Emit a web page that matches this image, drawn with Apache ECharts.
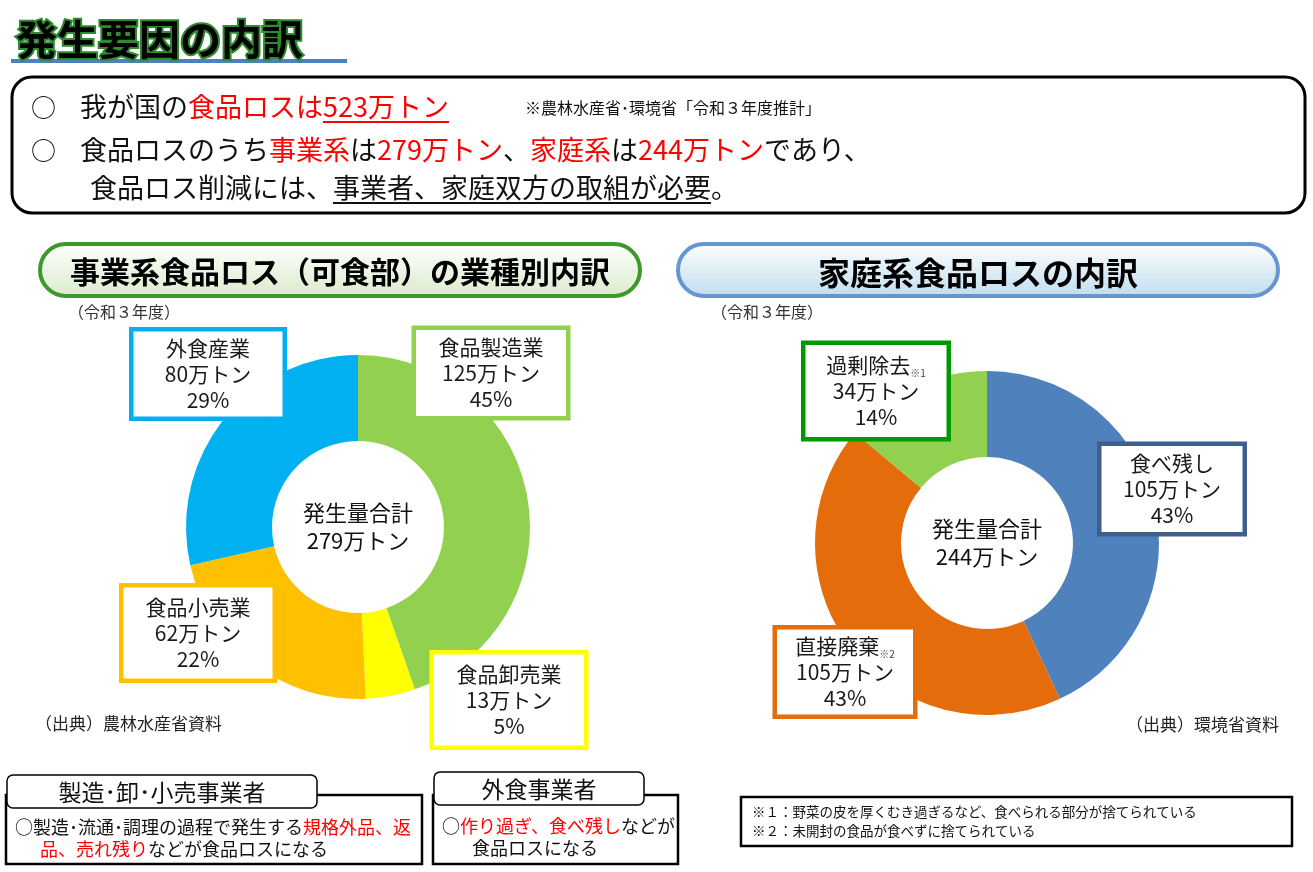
<!DOCTYPE html>
<html><head><meta charset="utf-8">
<script src="https://cdn.jsdelivr.net/npm/echarts@6/dist/echarts.min.js"></script>
<style>html,body{margin:0;padding:0;background:#fff}#c{width:1313px;height:872px}</style>
</head><body><div id="c"></div>
<script>
// ---- data ----
const bizNames = ['食品製造業', '食品卸売業', '食品小売業', '外食産業'];
const bizValues = [125, 13, 62, 80];
const bizPct = [45, 5, 22, 29];
const bizNotes = ['', '', '', ''];
const bizTotal = 279;
const homeNames = ['食べ残し', '直接廃棄', '過剰除去'];
const homeValues = [105, 105, 34];
const homePct = [43, 43, 14];
const homeNotes = ['', '※2', '※1'];
const homeTotal = 244;
const totalLoss = 523;
const unit = '万トン';
const centerCaption = '発生量合計';

// ---- styles / layout ----
const FONT = '"Noto Sans CJK JP", "Noto Sans CJK SC", sans-serif';
const bizColors = ['#92D050', '#FFFF00', '#FFC000', '#00B0F0'];
const bizBorder = ['#92D050', '#FFFF00', '#FFC000', '#00B0F0'];
const homeColors = ['#4F81BD', '#E46C0A', '#92D050'];
const homeBorder = ['#3E5F8C', '#E46C0A', '#009A00'];
// label boxes: [cx, cy, outerW, outerH]
const bizBox = [[491, 373, 154, 90], [509, 700, 154, 95], [198, 633, 153, 95], [208, 374, 153, 89]];
const homeBox = [[1172, 489, 145, 90], [845, 672, 140, 89], [876, 391, 145, 96]];
const RED = '#FF0000';
const TXT = '#111';

const mctx = document.createElement('canvas').getContext('2d');
function tw(t, size, weight) {
  mctx.font = (weight || 'normal') + ' ' + size + 'px ' + FONT;
  return mctx.measureText(t).width;
}
function txt(x, y, t, size, o) {
  o = o || {};
  return {
    type: 'text', x: x, y: y, z: o.z || 10, silent: true,
    style: {
      text: t, fontSize: size, fontFamily: FONT, fontWeight: o.weight || 'normal',
      fill: o.fill || TXT, stroke: o.stroke, lineWidth: o.lineWidth || 0,
      align: o.align || 'left', textAlign: o.align || 'left',
      verticalAlign: 'middle', textVerticalAlign: 'middle',
      lineHeight: o.lineHeight
    }
  };
}
function runs(x, y, size, segs, out) {
  segs.forEach(function (s) {
    const w = tw(s.t, size);
    out.push(txt(x, y, s.t, size, { fill: s.c || TXT }));
    if (s.u) {
      const uy = y + size * 0.56;
      out.push({ type: 'line', z: 10, silent: true, shape: { x1: x, y1: uy, x2: x + w, y2: uy }, style: { stroke: s.c || TXT, lineWidth: 2 } });
    }
    x += w;
  });
}

const G = [];
// title
G.push(txt(16, 39, '発生要因の内訳', 41, { weight: 'bold', fill: '#000', stroke: '#2E8B2E', lineWidth: 4 }));
G.push({ type: 'rect', z: 5, silent: true, shape: { x: 11, y: 59, width: 336, height: 4 }, style: { fill: '#4F81BD' } });

// top box
G.push({ type: 'rect', z: 1, silent: true, shape: { x: 12, y: 77, width: 1293, height: 136, r: 20 }, style: { fill: '#fff', stroke: '#000', lineWidth: 3 } });
const FS = 27;
G.push(txt(31, 107, '○', 25));
G.push(txt(31, 150, '○', 25));
runs(80, 107, FS, [{ t: '我が国の' }, { t: '食品ロスは', c: RED }, { t: totalLoss + unit, c: RED, u: true }], G);
G.push(txt(525, 108, '※農林水産省･環境省「令和３年度推計」', 16));
runs(80, 150, FS, [{ t: '食品ロスのうち' }, { t: '事業系', c: RED }, { t: 'は' }, { t: bizTotal + unit, c: RED }, { t: '、' },
  { t: '家庭系', c: RED }, { t: 'は' }, { t: homeTotal + unit, c: RED }, { t: 'であり、' }], G);
runs(90, 188, FS, [{ t: '食品ロス削減には、' }, { t: '事業者、家庭双方の取組が必要', u: true }, { t: '。' }], G);

// section pills
G.push({ type: 'rect', z: 1, silent: true, shape: { x: 40, y: 244, width: 600, height: 52, r: 26 },
  style: { stroke: '#3A9A2A', lineWidth: 4, fill: { type: 'linear', x: 0, y: 0, x2: 0, y2: 1, colorStops: [{ offset: 0, color: '#FFFFFF' }, { offset: 1, color: '#DAEBCB' }] } } });
G.push(txt(340, 272, '事業系食品ロス（可食部）の業種別内訳', 30, { weight: 'bold', fill: '#000', align: 'center' }));
G.push({ type: 'rect', z: 1, silent: true, shape: { x: 678, y: 244, width: 600, height: 52, r: 26 },
  style: { stroke: '#6496D2', lineWidth: 4, fill: { type: 'linear', x: 0, y: 0, x2: 0, y2: 1, colorStops: [{ offset: 0, color: '#FFFFFF' }, { offset: 1, color: '#BFDCEE' }] } } });
G.push(txt(978, 273, '家庭系食品ロスの内訳', 32, { weight: 'bold', fill: '#000', align: 'center' }));
G.push(txt(68, 312, '（令和３年度）', 16, { fill: '#333' }));
G.push(txt(711, 312, '（令和３年度）', 16, { fill: '#333' }));

// centers
G.push(txt(358, 527, centerCaption + '\n' + bizTotal + unit, 22, { align: 'center', lineHeight: 28 }));
G.push(txt(987, 543, centerCaption + '\n' + homeTotal + unit, 22, { align: 'center', lineHeight: 28 }));

// sources
G.push(txt(35, 724, '（出典）農林水産省資料', 17, { fill: '#222' }));
G.push(txt(1279, 725, '（出典）環境省資料', 17, { fill: '#222', align: 'right' }));

// bottom boxes
G.push({ type: 'rect', z: 1, silent: true, shape: { x: 6, y: 795, width: 416, height: 69 }, style: { fill: '#fff', stroke: '#000', lineWidth: 2.5 } });
G.push({ type: 'rect', z: 2, silent: true, shape: { x: 7, y: 775, width: 310, height: 33, r: 6 }, style: { fill: '#fff', stroke: '#000', lineWidth: 1.5 } });
G.push(txt(162, 792, '製造･卸･小売事業者', 23, { align: 'center' }));
runs(15, 827, 18, [{ t: '○製造･流通･調理の過程で発生する' }, { t: '規格外品、返', c: RED }], G);
runs(40, 849, 18, [{ t: '品、売れ残り', c: RED }, { t: 'などが食品ロスになる' }], G);

G.push({ type: 'rect', z: 1, silent: true, shape: { x: 433, y: 795, width: 245, height: 69 }, style: { fill: '#fff', stroke: '#000', lineWidth: 2.5 } });
G.push({ type: 'rect', z: 2, silent: true, shape: { x: 434, y: 772, width: 210, height: 33, r: 6 }, style: { fill: '#fff', stroke: '#000', lineWidth: 1.5 } });
G.push(txt(539, 789, '外食事業者', 23, { align: 'center' }));
runs(442, 826, 18, [{ t: '○' }, { t: '作り過ぎ、食べ残し', c: RED }, { t: 'などが' }], G);
runs(472, 848, 18, [{ t: '食品ロスになる' }], G);

G.push({ type: 'rect', z: 1, silent: true, shape: { x: 741, y: 797, width: 551, height: 49 }, style: { fill: '#fff', stroke: '#000', lineWidth: 2.5 } });
G.push(txt(752, 812, '※１：野菜の皮を厚くむき過ぎるなど、食べられる部分が捨てられている', 13.5));
G.push(txt(752, 831, '※２：未開封の食品が食べずに捨てられている', 13.5));

// ---- pies ----
const LH = 26;
function makeData(names, values, colors, borders, boxes) {
  return names.map(function (n, i) {
    const b = boxes[i];
    const pad = (b[3] - 4 - 3 * LH) / 2;
    return {
      name: n, value: values[i], itemStyle: { color: colors[i] },
      label: { borderColor: borders[i], width: b[2] - 4, padding: [pad, 0, pad, 0] }
    };
  });
}
function makeSeries(names, values, pct, notes, colors, borders, boxes, center) {
  return {
    type: 'pie', center: center, radius: [86, 172], startAngle: 90, clockwise: true,
    avoidLabelOverlap: false, silent: true, animation: false,
    emphasis: { disabled: true },
    itemStyle: { borderWidth: 0 },
    data: makeData(names, values, colors, borders, boxes),
    labelLine: { show: false },
    label: {
      show: true, position: 'outside', backgroundColor: '#fff', borderWidth: 4.5,
      align: 'center', verticalAlign: 'middle',
      formatter: function (p) {
        const note = notes[p.dataIndex];
        return '{n|' + p.name + '}' + (note ? '{s|' + note + '}' : '') + '\n{v|' + p.value + unit + '}\n{v|' + pct[p.dataIndex] + '%}';
      },
      rich: {
        n: { fontSize: 21, lineHeight: LH, fontFamily: FONT, color: '#1a1a1a', align: 'center' },
        v: { fontSize: 21, lineHeight: LH, fontFamily: FONT, color: '#1a1a1a', align: 'center' },
        s: { fontSize: 10, lineHeight: LH, fontFamily: FONT, color: '#444', verticalAlign: 'bottom', align: 'center' }
      }
    },
    labelLayout: function (p) {
      const b = boxes[p.dataIndex];
      return { x: b[0], y: b[1], align: 'center', verticalAlign: 'middle' };
    }
  };
}

const chart = echarts.init(document.getElementById('c'), null, { renderer: 'canvas' });
chart.setOption({
  animation: false,
  backgroundColor: '#fff',
  graphic: { elements: G },
  series: [
    makeSeries(bizNames, bizValues, bizPct, bizNotes, bizColors, bizBorder, bizBox, [358, 527]),
    makeSeries(homeNames, homeValues, homePct, homeNotes, homeColors, homeBorder, homeBox, [987, 543])
  ]
});
</script>
</body></html>
